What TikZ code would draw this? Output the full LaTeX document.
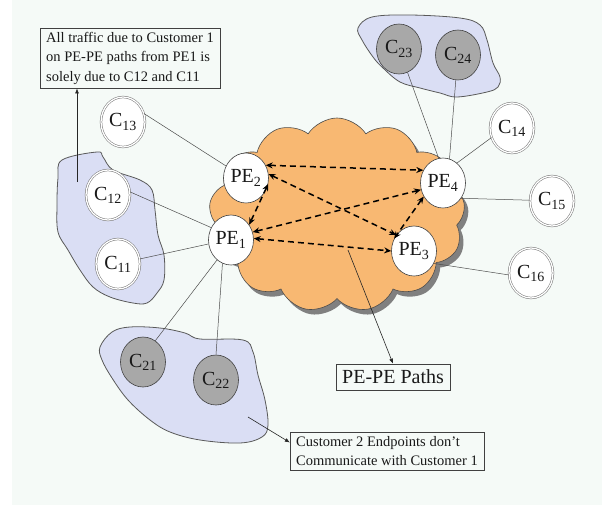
\documentclass[tikz,border=0pt]{standalone}
\usepackage{fontspec}
\setmainfont{Liberation Serif}
\usetikzlibrary{
  shapes.symbols,
  shapes.geometric,
  arrows.meta,
  positioning,
  }
\definecolor{bgcol}{HTML}{F5FAF7}
\definecolor{cloudcol}{HTML}{F8B872}
\definecolor{blobcol}{HTML}{DADEF4}
\definecolor{custgray}{HTML}{A8A8A8}

\begin{document}
\begin{tikzpicture}[x=1pt, y=-1pt,
  every node/.style={font=\fontsize{20}{22}\selectfont, text=black!90, inner sep=0pt},
  pe/.style={ellipse, draw=black!75, fill=white, line width=0.6pt, minimum width=45pt, minimum height=50pt},
  cust/.style={ellipse, draw=black!55, double=white, double distance=1.3pt, line width=0.5pt, fill=white, minimum width=44pt, minimum height=50pt},
  other/.style={ellipse, draw=black!75, fill=custgray, line width=0.6pt, minimum width=45pt, minimum height=50pt},
  note/.style={rectangle, draw=black!75, fill=bgcol, line width=0.6pt, align=left, inner xsep=6pt, inner ysep=4pt, font=\fontsize{14.5}{19.5}\selectfont},
  puffs/.style={cloud, cloud puffs=13, cloud puff arc=115, aspect=1.3, minimum width=256pt, minimum height=194pt},
  blob/.style={fill=blobcol, draw=black!65, line width=0.8pt},
  link/.style={draw=black!70, line width=0.5pt},
  pepath/.style={{Stealth[length=7pt,width=6pt]}-{Stealth[length=7pt,width=6pt]}, line width=1.5pt, dash pattern=on 6pt off 4pt},
  callout/.style={-{Latex[length=5pt,width=4pt]}, draw=black!85, line width=0.6pt},
  ]
  \useasboundingbox (0,0) rectangle (602,506);
  \fill[bgcol] (12,0) rectangle (602,505);

  % customer sites
  \draw[blob] plot[smooth cycle, tension=0.6] coordinates {(358,28) (372,17) (410,15) (460,18) (480,25) (487,40) (493,63) (500,77) (498,87) (487,92) (457,97) (440,93) (420,88) (400,82) (383,68) (373,57) (362,40)};
  \draw[blob] plot[smooth cycle, tension=0.6] coordinates {(58,178) (62,160) (97,152) (103,157) (113,170) (140,180) (152,190) (155,210) (158,235) (164,255) (164,280) (157,293) (147,303) (133,303) (110,297) (93,287) (80,270) (68,250) (58,232) (57,205)};
  \draw[blob] plot[smooth cycle, tension=0.6] coordinates {(100,347) (112,332) (130,327) (160,328) (185,333) (200,339) (243,340) (253,352) (258,375) (265,400) (268,425) (262,437) (240,443) (200,440) (170,432) (150,420) (128,400) (112,378) (102,360)};

  % provider cloud
  \node[puffs, fill=black!50] (shade) at (341,220) {};
  \node[puffs, fill=cloudcol, draw=black!70, line width=0.6pt] (core) at (337,215) {};

  \node[pe] (PE1) at (231,240) {PE\textsubscript{1}};
  \node[pe] (PE2) at (246,178) {PE\textsubscript{2}};
  \node[pe] (PE3) at (414,251) {PE\textsubscript{3}};
  \node[pe] (PE4) at (443,183) {PE\textsubscript{4}};

  \node[cust] (C11) at (118,264) {C\textsubscript{11}};
  \node[cust] (C12) at (108,195) {C\textsubscript{12}};
  \node[cust] (C13) at (123,122) {C\textsubscript{13}};
  \node[cust] (C14) at (512,128) {C\textsubscript{14}};
  \node[cust] (C15) at (552,201) {C\textsubscript{15}};
  \node[cust] (C16) at (531,273) {C\textsubscript{16}};

  \node[other] (C21) at (143,362) {C\textsubscript{21}};
  \node[other] (C22) at (216,380) {C\textsubscript{22}};
  \node[other] (C23) at (399,49) {C\textsubscript{23}};
  \node[other] (C24) at (458,55) {C\textsubscript{24}};

  \node[note] (note1) at (130,58) {All traffic due to Customer 1\\on PE-PE paths from PE1 is\\solely due to C12 and C11};
  \node[note, font=\fontsize{20}{22}\selectfont, inner ysep=6pt] (paths) at (393,377) {PE-PE Paths};
  \node[note] (note2) at (387,451) {Customer 2 Endpoints don't\\Communicate with Customer 1};

  \coordinate (c1src) at (77,182);
  \coordinate (pathsrc) at (348,250);
  \coordinate (c2src) at (248,417);

  % access links
  \draw[link] (C13.22) -- (PE2.149);
  \draw[link] (C12.8) -- (PE1.148);
  \draw[link] (C11.13) -- (PE1.190);
  \draw[link] (PE1.235) -- (C21.60);
  \draw[link] (PE1.250) -- (C22.north);
  \draw[link] (C23.-70) -- (PE4.100);
  \draw[link] (C24.-95) -- (PE4.75);
  \draw[link] (PE4.55) -- (C14.205);
  \draw[link] (PE4.-40) -- (C15.178);
  \draw[link] (PE3.-32) -- (C16.185);

  % PE-PE paths
  \draw[pepath] (PE2.33) -- (PE4.147);
  \draw[pepath] (PE2.10) -- (PE3.138);
  \draw[pepath] (PE2.-15) -- (PE1.40);
  \draw[pepath] (PE1.20) -- (PE4.197);
  \draw[pepath] (PE1.4) -- (PE3.180);
  \draw[pepath] (PE4.215) -- (PE3.148);

  \draw[callout] (c1src) -- (c1src |- note1.south);
  \draw[callout] (pathsrc) -- (paths.north);
  \draw[callout] (c2src) -- (note2.175);
\end{tikzpicture}
\end{document}
